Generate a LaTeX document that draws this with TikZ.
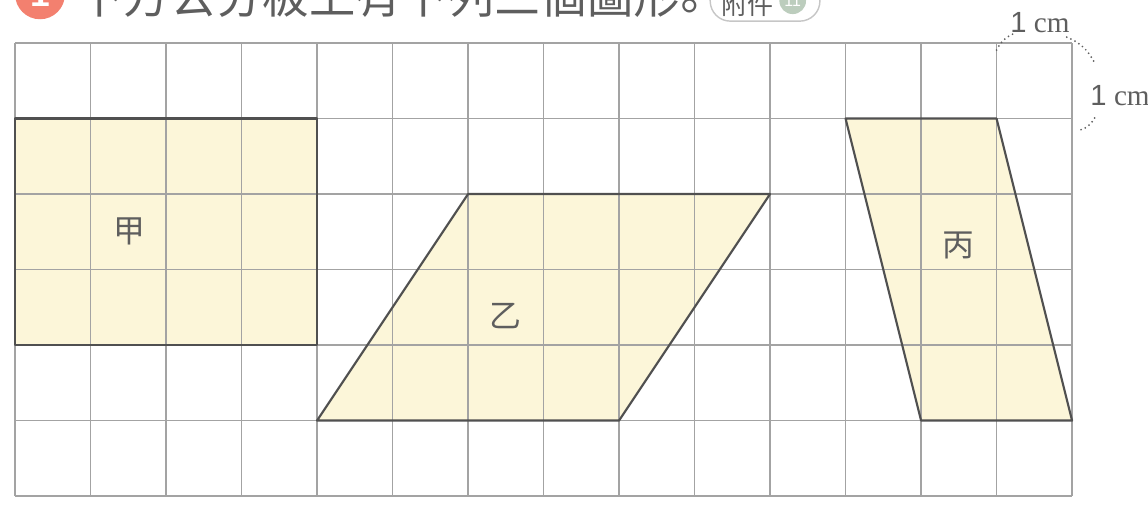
\documentclass[tikz,border=0pt]{standalone}
\usepackage{fontspec}
\setmainfont{Liberation Serif}
\newfontfamily\cjk{Noto Sans CJK TC}
\newfontfamily\digitfont{Liberation Sans}
\usetikzlibrary{positioning}
\definecolor{gridgray}{HTML}{A3A3A3}
\definecolor{edgegray}{HTML}{505050}
\definecolor{paleyellow}{HTML}{FCF6D9}
\definecolor{salmon}{HTML}{F3806F}
\definecolor{textgray}{HTML}{5E5E5E}
\definecolor{tagcircle}{HTML}{BCCDBD}

\begin{document}
\begin{tikzpicture}[x=1.5cm, y=1.5cm,
		figedge/.style={draw=edgegray, line width=1.2pt, line join=round},
		figlabel/.style={font=\cjk\fontsize{18}{18}\selectfont, text=textgray, inner sep=0pt},
		cmlabel/.style={font=\fontsize{16.5}{16.5}\selectfont, text=textgray, inner sep=0pt},
		brace/.style={draw=textgray, line width=1.1pt, line cap=round, dash pattern=on 0pt off 2.6pt}]
			%%%%% START %%%%%
			\useasboundingbox (-0.199, -0.172) rectangle (15.006, 6.570);
			
			% title line, cut by the page top
			\node[circle, fill=salmon, inner sep=0pt, minimum size=0.99cm, text=white, font=\digitfont\bfseries\fontsize{20}{20}\selectfont] (num) at (0.331, 6.645) {1};
			\node[anchor=west, inner sep=0pt, text=textgray, font=\cjk\fontsize{26.2}{26.2}\selectfont] (title) at (0.821, 6.585) {下方公分板上有下列三個圖形\hspace{-0.3em}\raisebox{-0.2em}{\makebox[0.5em][l]{。}}};
			\node[draw=gray!45, line width=0.8pt, rounded corners=0.4cm, minimum width=2.18cm, minimum height=0.84cm] (tag) at (9.934, 6.570) {};
			\node[inner sep=0pt, text=textgray, font=\cjk\fontsize{14.7}{14.7}\selectfont] (tagtext) at (9.695, 6.505) {附件};
			\node[circle, fill=tagcircle, inner sep=0pt, minimum size=0.53cm, text=white, font=\digitfont\fontsize{9}{9}\selectfont] (tagnum) at (10.30, 6.560) {11};
			
			% yellow figures
			\fill[paleyellow] (0, 2) rectangle (4, 5);
			\fill[paleyellow] (4, 1) -- (8, 1) -- (10, 4) -- (6, 4) -- cycle;
			\fill[paleyellow] (11, 5) -- (13, 5) -- (14, 1) -- (12, 1) -- cycle;
			
			% centimetre board
			\foreach \i in {0,...,14}
				\draw[gridgray, line width=0.75pt] (\i, 0) -- (\i, 6);
			\foreach \j in {0,...,6}
				\draw[gridgray, line width=0.75pt] (0, \j) -- (14, \j);
			
			\draw[figedge] (0, 2) rectangle (4, 5);
			\draw[figedge] (4, 1) -- (8, 1) -- (10, 4) -- (6, 4) -- cycle;
			\draw[figedge] (11, 5) -- (13, 5) -- (14, 1) -- (12, 1) -- cycle;
			
			\node[figlabel] (jia) at (1.52, 3.50) {甲};
			\node[figlabel] (yi) at (6.49, 2.38) {乙};
			\node[figlabel] (bing) at (12.50, 3.32) {丙};
			
			% unit marks
			\node[cmlabel] (cmtop) at (13.576, 6.270) {{\digitfont 1} cm};
			\node[cmlabel] (cmright) at (14.636, 5.298) {{\digitfont 1} cm};
			
			\coordinate (topleft) at (13.0, 5.907);
			\coordinate (topend) at (13.245, 6.132);
			\coordinate (cornerup) at (13.93, 6.079);
			\coordinate (rightup) at (14.30, 5.735);
			\coordinate (rightdown) at (14.30, 5.007);
			\coordinate (rightend) at (14.11, 4.848);
			
			\draw[brace] (topleft) to[bend left=20] (topend);
			\draw[brace] (cornerup) to[bend left=20] (rightup);
			\draw[brace] (rightdown) to[bend left=20] (rightend);
			
			%%%%% END %%%%%
\end{tikzpicture}
\end{document}
